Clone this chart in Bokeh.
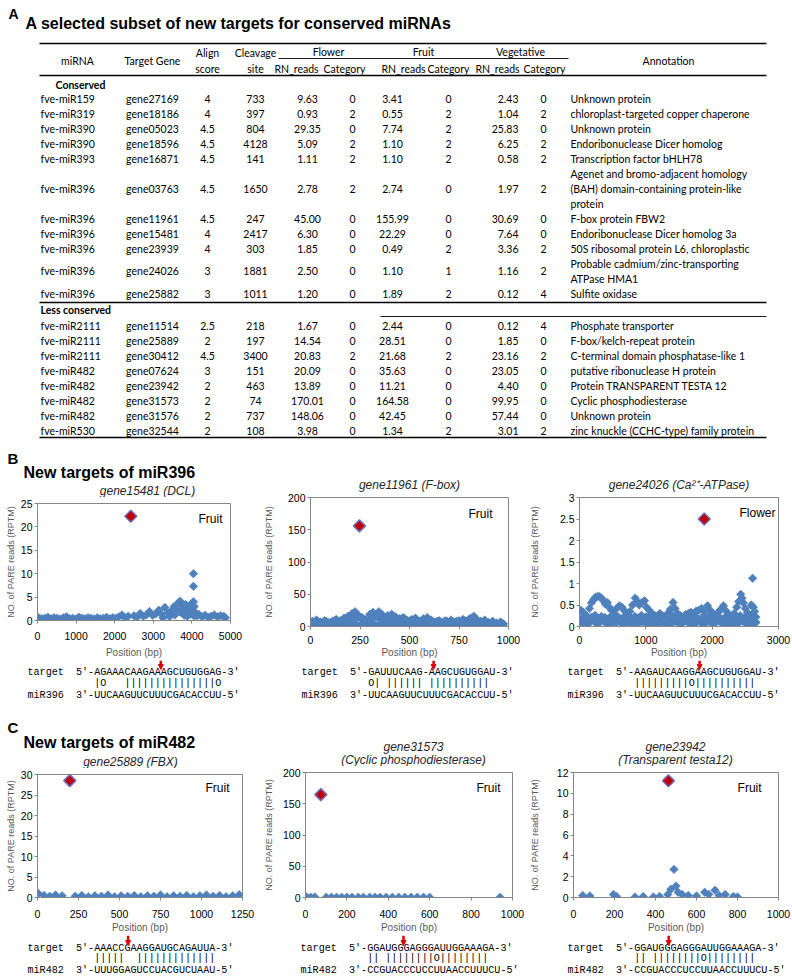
import numpy as np
from bokeh.plotting import figure
from bokeh.layouts import column, row
from bokeh.models import Range1d, FixedTicker, Label, Arrow, NormalHead, CustomJSTickFormatter, Title
from bokeh.core.properties import value
from bokeh.embed import file_html
from bokeh.resources import INLINE

# ---------------- table data ----------------
mirna_c = ["fve-miR159", "fve-miR319", "fve-miR390", "fve-miR390", "fve-miR393", "fve-miR396",
           "fve-miR396", "fve-miR396", "fve-miR396", "fve-miR396", "fve-miR396"]
gene_c = ["gene27169", "gene18186", "gene05023", "gene18596", "gene16871", "gene03763",
          "gene11961", "gene15481", "gene23939", "gene24026", "gene25882"]
align_c = ["4", "4", "4.5", "4.5", "4.5", "4.5", "4.5", "4", "4", "3", "3"]
cleave_c = ["733", "397", "804", "4128", "141", "1650", "247", "2417", "303", "1881", "1011"]
flower_rn_c = ["9.63", "0.93", "29.35", "5.09", "1.11", "2.78", "45.00", "6.30", "1.85", "2.50", "1.20"]
flower_cat_c = ["0", "2", "0", "2", "2", "2", "0", "0", "0", "0", "0"]
fruit_rn_c = ["3.41", "0.55", "7.74", "1.10", "1.10", "2.74", "155.99", "22.29", "0.49", "1.10", "1.89"]
fruit_cat_c = ["0", "2", "2", "2", "2", "0", "0", "0", "2", "1", "2"]
veg_rn_c = ["2.43", "1.04", "25.83", "6.25", "0.58", "1.97", "30.69", "7.64", "3.36", "1.16", "0.12"]
veg_cat_c = ["0", "2", "0", "2", "2", "2", "0", "0", "2", "2", "4"]
annot_c = ["Unknown protein", "chloroplast-targeted copper chaperone", "Unknown protein",
           "Endoribonuclease Dicer homolog", "Transcription factor bHLH78",
           "Agenet and bromo-adjacent homology\n(BAH) domain-containing protein-like\nprotein",
           "F-box protein FBW2", "Endoribonuclease Dicer homolog 3a",
           "50S ribosomal protein L6, chloroplastic",
           "Probable cadmium/zinc-transporting\nATPase HMA1", "Sulfite oxidase"]

mirna_l = ["fve-miR2111", "fve-miR2111", "fve-miR2111", "fve-miR482", "fve-miR482", "fve-miR482",
           "fve-miR482", "fve-miR530"]
gene_l = ["gene11514", "gene25889", "gene30412", "gene07624", "gene23942", "gene31573", "gene31576", "gene32544"]
align_l = ["2.5", "2", "4.5", "3", "2", "2", "2", "2"]
cleave_l = ["218", "197", "3400", "151", "463", "74", "737", "108"]
flower_rn_l = ["1.67", "14.54", "20.83", "20.09", "13.89", "170.01", "148.06", "3.98"]
flower_cat_l = ["0", "0", "2", "0", "0", "0", "0", "0"]
fruit_rn_l = ["2.44", "28.51", "21.68", "35.63", "11.21", "164.58", "42.45", "1.34"]
fruit_cat_l = ["0", "0", "2", "0", "0", "0", "0", "2"]
veg_rn_l = ["0.12", "1.85", "23.16", "23.05", "4.40", "99.95", "57.44", "3.01"]
veg_cat_l = ["4", "0", "2", "0", "0", "0", "0", "2"]
annot_l = ["Phosphate transporter", "F-box/kelch-repeat protein", "C-terminal domain phosphatase-like 1",
           "putative ribonuclease H protein", "Protein TRANSPARENT TESTA 12", "Cyclic phosphodiesterase",
           "Unknown protein", "zinc knuckle (CCHC-type) family protein"]

# ---------------- PARE plot data (position bp, reads RPTM) ----------------
b1_x = [30, 110, 190, 270, 350, 430, 510, 590, 670, 750, 830, 910, 990, 1070, 1150, 1230, 1310, 1390, 1470,
        1550, 1630, 1710, 1790, 1870, 1950, 2030, 2110, 2190, 2270, 2350,
        2500, 2580, 2660, 2740, 2820, 2900, 2980, 3060, 3140, 3220, 3300, 3380, 3460, 3540,
        3600, 3660, 3700, 3740, 3790, 3840, 3890, 3940, 3990, 4020,
        4040, 4040, 4040, 4060, 4080, 4120, 4180,
        4260, 4340, 4420, 4500, 4580, 4660, 4740, 4820, 4870,
        3250, 3420, 3560, 3700, 3800, 3880, 3960, 4050]
b1_y = [0.6, 0.4, 0.5, 0.7, 0.4, 0.6, 0.5, 0.3, 0.6, 0.8, 0.4, 0.5, 0.3, 0.7, 0.5, 0.4, 0.6, 0.5, 0.3,
        0.6, 0.4, 0.5, 0.7, 0.4, 0.6, 0.5, 0.8, 1.2, 0.6, 0.9,
        1.0, 0.7, 1.5, 0.9, 1.2, 1.9, 1.1, 1.4, 2.2, 1.3, 2.8, 1.6, 2.0, 3.0,
        2.4, 3.9, 4.1, 3.2, 2.6, 3.4, 2.2, 2.8, 3.6, 2.0,
        10.0, 7.3, 4.0, 3.0, 1.8, 1.0, 1.3,
        0.8, 1.1, 0.7, 0.9, 1.2, 0.8, 1.0, 0.9, 0.6,
        0.6, 0.8, 1.2, 1.8, 1.1, 0.9, 1.4, 1.0]
b1_site = (2417, 22.29)

b2_x = [10, 30, 50, 70, 90, 110, 130, 150, 170, 190, 210, 225, 240, 260, 280, 300, 315, 330, 345, 360,
        375, 390, 410, 430, 450, 470, 490, 510, 530, 550, 570, 590, 610, 630, 650, 670, 690, 710, 730, 750,
        770, 790, 810, 825, 840, 860, 880, 900, 920, 940, 960, 975,
        10, 30, 50, 70, 90, 110, 130, 150, 170, 190, 210, 230, 250, 270, 290, 310, 330, 350, 370, 390,
        410, 430, 450, 470, 490, 510, 530, 550, 570, 590, 610, 630, 650, 670, 690, 710, 730, 750, 770, 790,
        810, 830, 850, 870, 890, 910, 930, 950, 970,
        20, 40, 60, 80, 100, 120, 140, 160, 180, 200, 220, 240, 260, 280, 300, 320, 340, 360, 380, 400,
        420, 440, 460, 480, 500, 520, 540, 560, 580, 600, 620, 640, 660, 680, 700, 720, 740, 760, 780, 800,
        820, 840, 860, 880, 900, 920, 940, 960]
b2_y = [8, 10, 7, 9, 6, 8, 11, 9, 13, 16, 20, 23, 18, 14, 11, 19, 22, 17, 23, 19,
        14, 17, 19, 15, 12, 14, 9, 11, 13, 8, 12, 14, 10, 7, 9, 6, 8, 10, 7, 9,
        11, 8, 13, 16, 11, 8, 10, 6, 8, 5, 7, 4,
        2, 3, 1, 2, 4, 3, 2, 1, 3, 2, 4, 3, 2, 5, 3, 4, 2, 3, 5, 4,
        3, 2, 4, 3, 2, 1, 3, 2, 4, 3, 2, 3, 1, 2, 3, 2, 4, 3, 2, 1,
        3, 2, 4, 2, 3, 1, 2, 3, 2,
        6, 7, 5, 8, 6, 9, 7, 8, 10, 12, 13, 14, 12, 10, 11, 13, 14, 12, 11, 10,
        9, 11, 12, 10, 8, 9, 7, 8, 10, 9, 6, 8, 7, 9, 6, 7, 8, 6, 9, 11,
        12, 9, 7, 8, 6, 7, 5, 6]
b2_site = (247, 155.99)

b3_x = [20, 60, 110, 150, 180, 210, 240, 270, 300, 330, 360, 390, 420, 450, 480, 520, 560, 600, 640, 680,
        720, 760, 800, 840, 870, 900, 940, 980, 1010, 1050, 1090, 1130, 1170, 1210, 1250, 1290, 1330, 1370,
        1410, 1440, 1480, 1520, 1560, 1600, 1640, 1680, 1720, 1760, 1800, 1840, 1880, 1930, 1970, 2010,
        2050, 2090, 2130, 2170, 2210, 2250, 2290, 2330, 2370, 2400, 2430, 2450, 2470, 2500, 2530, 2560,
        2590, 2610, 2620, 2640, 2660,
        40, 90, 130, 200, 260, 320, 380, 440, 500, 580, 620, 700, 780, 850, 920, 1000, 1060, 1120, 1190,
        1270, 1350, 1400, 1460, 1540, 1620, 1700, 1780, 1860, 1950, 2030, 2110, 2190, 2270, 2350, 2420,
        2480, 2540, 2600, 2650,
        10, 60, 110, 160, 210, 260, 310, 360, 410, 460, 510, 560, 610, 660, 710, 760, 810, 860, 910, 960,
        1010, 1060, 1110, 1160, 1210, 1260, 1310, 1360, 1410, 1460, 1510, 1560, 1610, 1660, 1710, 1760,
        1810, 1860, 1910, 1960, 2010, 2060, 2110, 2160, 2210, 2260, 2310, 2360, 2410, 2460, 2510, 2560,
        2610, 2660,
        35, 85, 135, 185, 235, 285, 335, 385, 435, 485, 535, 585, 635, 685, 735, 785, 835, 885, 935, 985,
        1035, 1085, 1135, 1185, 1235, 1285, 1335, 1385, 1435, 1485, 1535, 1585, 1635, 1685, 1735, 1785,
        1835, 1885, 1935, 1985, 2035, 2085, 2135, 2185, 2235, 2285, 2335, 2385, 2435, 2485, 2535, 2585, 2635]
b3_y = [0.38, 0.32, 0.25, 0.42, 0.55, 0.62, 0.68, 0.7, 0.7, 0.66, 0.6, 0.52, 0.56, 0.45, 0.38, 0.3, 0.42,
        0.48, 0.45, 0.36, 0.28, 0.35, 0.5, 0.66, 0.58, 0.5, 0.56, 0.6, 0.45, 0.38, 0.3, 0.26, 0.22, 0.3,
        0.25, 0.18, 0.3, 0.4, 0.56, 0.42, 0.3, 0.25, 0.2, 0.28, 0.3, 0.33, 0.3, 0.36, 0.38, 0.42, 0.35,
        0.48, 0.38, 0.3, 0.26, 0.33, 0.4, 0.48, 0.36, 0.28, 0.2, 0.3, 0.45, 0.58, 0.75, 0.66, 0.55, 0.42,
        0.32, 0.28, 0.5, 1.12, 0.45, 0.35, 0.22,
        0.12, 0.05, 0.15, 0.2, 0.1, 0.22, 0.12, 0.18, 0.08, 0.2, 0.1, 0.15, 0.08, 0.2, 0.12, 0.22, 0.1,
        0.06, 0.12, 0.08, 0.15, 0.25, 0.12, 0.08, 0.15, 0.1, 0.18, 0.12, 0.2, 0.1, 0.15, 0.1, 0.06, 0.12,
        0.25, 0.15, 0.1, 0.2, 0.08,
        0.08, 0.12, 0.05, 0.1, 0.14, 0.06, 0.1, 0.12, 0.08, 0.05, 0.11, 0.09, 0.13, 0.06, 0.1, 0.08, 0.12,
        0.05, 0.09, 0.11, 0.07, 0.13, 0.1, 0.06, 0.09, 0.12, 0.08, 0.05, 0.1, 0.11, 0.07, 0.09, 0.13, 0.06,
        0.1, 0.08, 0.12, 0.05, 0.09, 0.11, 0.07, 0.1, 0.12, 0.06, 0.09, 0.08, 0.11, 0.05, 0.1, 0.12, 0.07,
        0.09, 0.06, 0.1,
        0.2, 0.24, 0.18, 0.22, 0.26, 0.19, 0.23, 0.21, 0.17, 0.25, 0.2, 0.22, 0.18, 0.24, 0.21, 0.19, 0.23,
        0.2, 0.26, 0.18, 0.22, 0.2, 0.24, 0.19, 0.21, 0.17, 0.23, 0.25, 0.2, 0.18, 0.22, 0.24, 0.19, 0.21,
        0.23, 0.18, 0.2, 0.25, 0.22, 0.19, 0.21, 0.24, 0.18, 0.2, 0.23, 0.21, 0.26, 0.19, 0.22, 0.2, 0.24,
        0.18, 0.21]
b3_site = (1881, 2.50)

c1_x = [5, 40, 75, 110, 150, 230, 270, 310, 350, 390, 430, 470, 510, 550, 590, 630, 670, 710, 750, 790,
        830, 870, 910, 950, 990, 1030, 1070, 1110, 1150, 1190, 1230]
c1_y = [1.0, 0.5, 0.3, 0.6, 0.4, 0.3, 0.5, 0.2, 0.4, 0.3, 0.6, 0.2, 0.4, 0.3, 0.5, 0.2, 0.4, 0.3, 0.6, 0.2,
        0.4, 0.3, 0.5, 0.2, 0.4, 0.6, 0.3, 0.5, 0.2, 0.4, 0.7]
c1_site = (197, 28.51)

c2_x = [5, 25, 45, 100, 125, 150, 175, 200, 225, 255, 280, 310, 335, 360, 390, 420, 450, 480, 510, 540,
        570, 600, 940]
c2_y = [1.0, 0.5, 0.8, 0.4, 0.6, 0.5, 0.3, 0.6, 0.4, 0.5, 0.3, 0.4, 0.6, 0.3, 0.5, 0.4, 0.3, 0.5, 0.6, 0.3,
        0.5, 0.4, 0.6]
c2_site = (74, 164.58)

c3_x = [45, 80, 195, 210, 300, 340, 390, 420, 460, 475, 490, 500, 510, 530, 560, 600, 640, 660, 690, 710,
        740, 780, 800]
c3_y = [0.2, 0.15, 0.3, 0.1, 0.05, 0.1, 0.05, 0.1, 0.3, 0.8, 2.7, 1.1, 0.5, 0.3, 0.2, 0.15, 0.5, 0.3, 0.7,
        0.2, 0.3, 0.1, 0.05]
c3_site = (463, 11.21)

b1_xticks = [0, 1000, 2000, 3000, 4000, 5000]
b1_yticks = [0, 5, 10, 15, 20, 25]
b2_xticks = [0, 250, 500, 750, 1000]
b2_yticks = [0, 50, 100, 150, 200]
b3_xticks = [0, 1000, 2000, 3000]
b3_yticks = [0, 0.5, 1, 1.5, 2, 2.5, 3]
c1_xticks = [0, 250, 500, 750, 1000, 1250]
c1_yticks = [0, 5, 10, 15, 20, 25, 30]
c2_xticks = [0, 200, 400, 600, 800, 1000]
c2_yticks = [0, 50, 100, 150, 200]
c3_xticks = [0, 200, 400, 600, 800, 1000]
c3_yticks = [0, 2, 4, 6, 8, 10, 12]

# alignments: (miRNA name, target, pairing, miRNA, cleavage index)
aln_b1 = ("miR396", "5'-AGAAACAAGAAAGCUGUGGAG-3'", "|O   |||||||||||||||O", "3'-UUCAAGUUCUUUCGACACCUU-5'", 11.0)
aln_b2 = ("miR396", "5'-GAUUUCAAG-AAGCUGUGGAU-3'", "O| |||||| ||||||||||", "3'-UUCAAGUUCUUUCGACACCUU-5'", 10.8)
aln_b3 = ("miR396", "5'-AAGAUCAAGGAAGCUGUGGAU-3'", "|||||||||O||||||||||", "3'-UUCAAGUUCUUUCGACACCUU-5'", 10.8)
aln_c1 = ("miR482", "5'-AAACCGAAGGAUGCAGAUUA-3'", "|||||  |||||||||||||", "3'-UUUGGAGUCCUACGUCUAAU-5'", 5.6)
aln_c2 = ("miR482", "5'-GGAUGGGAGGGAUUGGAAAGA-3'", "|| ||||||||O||||||||", "3'-CCGUACCCUCCUUAACCUUUCU-5'", 6.0)
aln_c3 = ("miR482", "5'-GGAUGGGAGGGAUUGGAAAGA-3'", "|| ||||||||O||||||||", "3'-CCGUACCCUCCUUAACCUUUCU-5'", 5.7)

# ---------------- styles ----------------
SANS = "Liberation Sans"
TFONT = "Lato"
MONO = "Liberation Mono"
NB = "\u00a0"
BLUE = "#4F81BD"
BLUE_EDGE = "#4A7EBB"
RED = "#C00000"
RED_EDGE = "#6E6EC0"
ARROW_RED = "#E00000"
FRAME = "#868686"
TITLE_COLOR = "#262626"


def text_fig(w, h):
    p = figure(width=w, height=h, x_range=Range1d(0, w), y_range=Range1d(h, 0),
               x_axis_type=None, y_axis_type=None, output_backend="svg",
               toolbar_location=None, min_border=0, frame_align=False)
    p.grid.visible = False
    p.outline_line_color = None
    return p


def put(p, xs, ys, texts, size, font=TFONT, style="normal", align="left", color="#000000"):
    p.text(x=list(xs), y=list(ys), text=list(texts), text_font=value(font),
           text_font_size=value(size), text_font_style=value(style), text_align=value(align),
           text_baseline=value("middle"), text_color=color)


# ---------------- table (panel A) ----------------
TW, TH = 792, 448
tp = text_fig(TW, TH)

put(tp, [8], [13], ["A"], "14px", font=SANS, style="bold")
put(tp, [25], [23], ["A selected subset of new targets for conserved miRNAs"], "16px", font=SANS, style="bold")

thick = [(39, 766, 43), (39, 766, 75), (39, 766, 302), (39, 766, 437)]
thin = [(278, 568, 58), (380, 766, 316)]
tp.segment(x0=[a for a, b, c in thick], x1=[b for a, b, c in thick], y0=[c for a, b, c in thick],
           y1=[c for a, b, c in thick], line_color="black", line_width=1.6)
tp.segment(x0=[a for a, b, c in thin], x1=[b for a, b, c in thin], y0=[c for a, b, c in thin],
           y1=[c for a, b, c in thin], line_color="black", line_width=0.9)

HS = "10.5px"
hdr = [("miRNA", 77, 60), ("Target Gene", 152, 60), ("Align", 207, 52), ("score", 207, 68),
       ("Cleavage", 255, 52), ("site", 255, 68), ("Flower", 328, 51), ("Fruit", 423, 51),
       ("Vegetative", 520, 51), ("RN_reads", 296, 68), ("Category", 344, 68), ("RN_reads", 403, 68),
       ("Category", 448, 68), ("RN_reads", 497, 68), ("Category", 544, 68), ("Annotation", 668, 60)]
put(tp, [x for t, x, y in hdr], [y for t, x, y in hdr], [t for t, x, y in hdr], HS, align="center")
put(tp, [80], [84], ["Conserved"], HS, style="bold", align="center")
put(tp, [40], [309], ["Less conserved"], HS, style="bold")

LH = 15


def section(start, cols, annots):
    ys, ann_y, ann_t = [], [], []
    y = start
    for a in annots:
        parts = a.split("\n")
        ys.append(y + len(parts) * LH / 2)
        for i, s in enumerate(parts):
            ann_y.append(y + LH * (i + 0.5))
            ann_t.append(s)
        y += len(parts) * LH
    col_x = [(40, "left"), (152, "center"), (207, "center"), (255, "center"), (307, "center"),
             (352, "center"), (392, "center"), (448, "center"), (518, "right"), (543, "center")]
    for vals, (cx, al) in zip(cols, col_x):
        put(tp, [cx] * len(vals), ys, vals, HS, align=al)
    put(tp, [570] * len(ann_t), ann_y, ann_t, HS)


section(90.5, [mirna_c, gene_c, align_c, cleave_c, flower_rn_c, flower_cat_c, fruit_rn_c, fruit_cat_c,
               veg_rn_c, veg_cat_c], annot_c)
section(317.5, [mirna_l, gene_l, align_l, cleave_l, flower_rn_l, flower_cat_l, fruit_rn_l, fruit_cat_l,
                veg_rn_l, veg_cat_l], annot_l)


# ---------------- PARE plots ----------------
def pare_fig(w, h, bl, br, bt, bb, xr, yr, xt, yt, ylab_sd, xlab_sd, xtick_sd, xs, ys, site, tag, tag_dx,
             tag_dy, title=None, title_off=0, title_sd=0):
    p = figure(width=w, height=h, x_range=Range1d(*xr), y_range=Range1d(*yr), output_backend="svg",
               toolbar_location=None, min_border_left=bl, min_border_right=br, min_border_top=bt,
               min_border_bottom=bb, frame_align=False)
    p.grid.visible = False
    p.outline_line_color = FRAME
    p.outline_line_width = 1
    p.xaxis.ticker = FixedTicker(ticks=xt)
    p.yaxis.ticker = FixedTicker(ticks=yt)
    for ax in (p.xaxis[0], p.yaxis[0]):
        ax.formatter = CustomJSTickFormatter(code="return String(tick);")
        ax.axis_line_color = FRAME
        ax.major_tick_line_color = FRAME
        ax.major_tick_out = 3
        ax.major_tick_in = 0
        ax.minor_tick_line_color = None
        ax.major_label_text_font = SANS
        ax.major_label_text_font_size = "10.5px"
        ax.major_label_text_color = "#000000"
        ax.major_label_standoff = 2
        ax.axis_label_text_font = SANS
        ax.axis_label_text_font_style = "normal"
        ax.axis_label_text_color = "#595959"
    p.xaxis.axis_label = "Position (bp)"
    p.xaxis.axis_label_text_font_size = "10px"
    p.xaxis.axis_label_standoff = xlab_sd
    p.xaxis.major_label_standoff = xtick_sd
    p.yaxis.axis_label = "NO. of PARE reads (RPTM)"
    p.yaxis.axis_label_text_font_size = "9px"
    p.yaxis.axis_label_standoff = ylab_sd
    p.scatter(xs, ys, marker="square", angle=np.pi / 4, size=6, fill_color=BLUE, line_color=BLUE_EDGE,
              line_width=0.6)
    p.scatter([site[0]], [site[1]], marker="square", angle=np.pi / 4, size=8.5, fill_color=RED,
              line_color=RED_EDGE, line_width=1.5)
    fw, fh = w - bl - br, h - bt - bb
    lx = xr[1] - tag_dx * (xr[1] - xr[0]) / fw
    ly = yr[1] - tag_dy * (yr[1] - yr[0]) / fh
    p.add_layout(Label(x=lx, y=ly, text=tag, text_align="right", text_baseline="middle", text_font=SANS,
                       text_font_size="12px", text_color="#000000"))
    if title is not None:
        p.add_layout(Title(text=title, align="center", offset=title_off, text_font=SANS, text_font_size="12px",
                           text_font_style="italic", text_color=TITLE_COLOR, standoff=title_sd), "above")
    return p


def align_fig(w, h, x0, ys, aln):
    name, target, pairs, mir, cut = aln
    p = text_fig(w, h)
    cw = 10.1 * 0.6
    lines = ["target" + NB * 2 + target, NB * 11 + pairs.replace(" ", NB), name + NB * 2 + mir]
    put(p, [x0] * 3, ys, lines, "10.1px", font=MONO)
    ax = x0 + (11 + cut) * cw
    p.add_layout(Arrow(end=NormalHead(size=5, fill_color=ARROW_RED, line_color=ARROW_RED),
                       x_start=ax, y_start=0, x_end=ax, y_end=ys[0] - 3,
                       line_color=ARROW_RED, line_width=2.5))
    return p


def gene_title(p, x, ys, lines):
    put(p, [x] * len(lines), ys, lines, "12px", font=SANS, style="italic", align="center", color=TITLE_COLOR)


W1, W2, W3 = 260, 266, 266

# column 1
t1 = text_fig(W1, 49)
put(t1, [7], [10], ["B"], "15px", font=SANS, style="bold")
put(t1, [23], [24], ["New targets of miR396"], "16px", font=SANS, style="bold")
gene_title(t1, 147, [42], ["gene15481 (DCL)"])
b1 = pare_fig(W1, 163, 37, 30, 6, 40, (0, 5000), (0, 25), b1_xticks, b1_yticks, 2, 4, 8,
              b1_x, b1_y, b1_site, "Fruit", 8, 15)
a1 = align_fig(W1, 40, 27, [12, 23, 35], aln_b1)
t4 = text_fig(W1, 68)
put(t4, [7], [27], ["C"], "15px", font=SANS, style="bold")
put(t4, [23], [42], ["New targets of miR482"], "16px", font=SANS, style="bold")
gene_title(t4, 130, [61], ["gene25889 (FBX)"])
c1 = pare_fig(W1, 167, 37, 18, 6, 36, (0, 1250), (0, 30), c1_xticks, c1_yticks, 2, 1, 9,
              c1_x, c1_y, c1_site, "Fruit", 13, 14)
a4 = align_fig(W1, 40, 27, [13, 23, 35], aln_c1)

# column 2
b2 = pare_fig(W2, 212, 50, 18, 49, 32, (0, 1000), (0, 200), b2_xticks, b2_yticks, 11, 0, 6,
              b2_x, b2_y, b2_site, "Fruit", 16, 17, "gene11961 (F-box)", 13, 12)
a2 = align_fig(W2, 40, 41, [12, 23, 35], aln_b2)
t5 = text_fig(W2, 66)
gene_title(t5, 153, [46, 59], ["gene31573", "(Cyclic phosphodiesterase)"])
c2 = pare_fig(W2, 169, 45, 14, 6, 36, (0, 1000), (0, 200), c2_xticks, c2_yticks, 6, 1, 9,
              c2_x, c2_y, c2_site, "Fruit", 12, 16)
a5 = align_fig(W2, 40, 40, [13, 23, 35], aln_c2)

# column 3
b3 = pare_fig(W3, 212, 52, 14, 49, 32, (0, 3000), (0, 3), b3_xticks, b3_yticks, 17, 0, 6,
              b3_x, b3_y, b3_site, "Flower", 3, 16, "gene24026 (Ca\u00b2\u207a-ATPase)", 4, 12)
a3 = align_fig(W3, 40, 41, [12, 23, 35], aln_b3)
t6 = text_fig(W3, 66)
gene_title(t6, 149, [46, 59], ["gene23942", "(Transparent testa12)"])
c3 = pare_fig(W3, 169, 46, 14, 6, 36, (0, 1000), (0, 12), c3_xticks, c3_yticks, 14, 1, 9,
              c3_x, c3_y, c3_site, "Fruit", 17, 16)
a6 = align_fig(W3, 40, 41, [13, 23, 35], aln_c3)

col1 = column(t1, b1, a1, t4, c1, a4, spacing=0)
col2 = column(b2, a2, t5, c2, a5, spacing=0)
col3 = column(b3, a3, t6, c3, a6, spacing=0)
page = column(tp, row(col1, col2, col3, spacing=0), spacing=0)

open("out.html", "w").write(file_html(page, INLINE, "miRNA targets"))
